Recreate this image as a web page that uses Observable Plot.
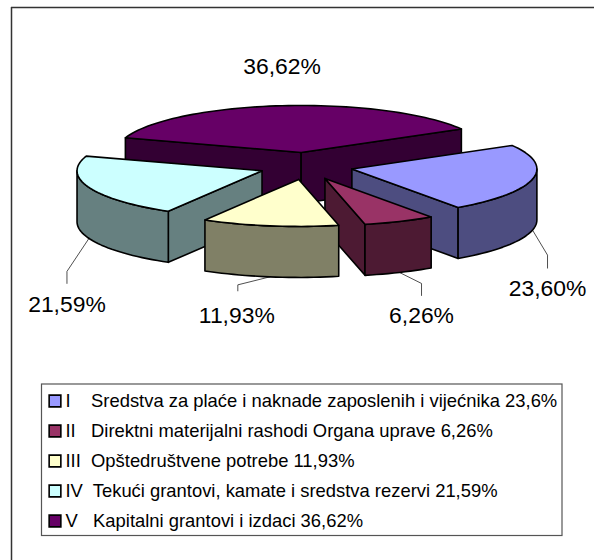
<!DOCTYPE html>
<html>
<head>
<meta charset="utf-8">
<style>
html,body{margin:0;padding:0;background:#fff;}
svg{display:block;}
text{white-space:pre;}
</style>
<script src="https://cdn.jsdelivr.net/npm/d3@7"></script>
<script src="https://cdn.jsdelivr.net/npm/@observablehq/plot@0.6"></script>
</head>
<body>
<div id="chart"></div>
<script>
// Data
const categories = ["I", "II", "III", "IV", "V"];
const values = [23.60, 6.26, 11.93, 21.59, 36.62];
const valueLabels = ["23,60%", "6,26%", "11,93%", "21,59%", "36,62%"];
const legendLabels = [
  "I    Sredstva za plaće i naknade zaposlenih i vijećnika 23,6%",
  "II   Direktni materijalni rashodi Organa uprave 6,26%",
  "III  Opštedruštvene potrebe 11,93%",
  "IV  Tekući grantovi, kamate i sredstva rezervi 21,59%",
  "V   Kapitalni grantovi i izdaci 36,62%"
];
const topColors = ["#9999FF", "#993366", "#FFFFCC", "#CCFFFF", "#660066"];
const wallColors = ["#4D4D80", "#4D1A33", "#808066", "#668080", "#330033"];

// Layout of the 3D projection
const W = 594, H = 560;
const cx = 305.5, cy = 165.5, rx = 185, ry = 47, depth = 51;
const explodeX = 47, explodeY = 13.6, startAngle = 60;
const rad = Math.PI / 180;
const paintOrder = [4, 3, 0, 1, 2];
// leader elbow offsets and label offsets, relative to the slice's rim
const leaderElbows = [[15, 25], [22, 11], [-32, 8], [-22, 33], null];
const leaderDrops = [13, 12, 6, 12, 0];
const labelOffsets = [[0, 21], [0, 20], [-1, 25], [0, 21], [0, -39]];

const total = d3.sum(values);
let cum = startAngle;
const slices = values.map((v, i) => {
  const a = cum, b = cum + v / total * 360;
  cum = b;
  const m = (a + b) / 2;
  const ox = cx + explodeX * Math.sin(m * rad), oy = cy - explodeY * Math.cos(m * rad);
  return {i, a, b, m, ox, oy};
});
const rim = (s, t, dz = 0) => ({x: s.ox + rx * Math.sin(t * rad), y: s.oy - ry * Math.cos(t * rad) + dz});
const arc = (s, t0, t1, dz = 0) => {
  const n = Math.max(2, Math.ceil(Math.abs(t1 - t0) / 2));
  return d3.range(n + 1).map(k => rim(s, t0 + (t1 - t0) * k / n, dz));
};
const close = pts => [...pts, pts[0]];
const radialWall = (s, t) => close([{x: s.ox, y: s.oy}, rim(s, t), rim(s, t, depth), {x: s.ox, y: s.oy + depth}]);
const face = (pts, fill) => Plot.line(pts, {x: "x", y: "y", fill, stroke: "#000", strokeWidth: 1.6, strokeLinejoin: "round"});

const pieMarks = paintOrder.flatMap(i => {
  const s = slices[i], marks = [];
  if (Math.sin(s.a * rad) < 0) marks.push(face(radialWall(s, s.a), wallColors[i]));
  if (Math.sin(s.b * rad) > 0) marks.push(face(radialWall(s, s.b), wallColors[i]));
  const f0 = Math.max(s.a, 90), f1 = Math.min(s.b, 270);
  if (f1 > f0) marks.push(face(close([...arc(s, f0, f1), ...arc(s, f1, f0, depth)]), wallColors[i]));
  marks.push(face(close([{x: s.ox, y: s.oy}, ...arc(s, s.a, s.b)]), topColors[i]));
  return marks;
});

const labelRows = slices.map(s => {
  const i = s.i;
  const hasLeader = leaderElbows[i] != null;
  const start = rim(s, s.m, hasLeader ? depth : 0);
  const elbow = hasLeader ? {x: start.x + leaderElbows[i][0], y: start.y + leaderElbows[i][1]} : start;
  const end = {x: elbow.x, y: elbow.y + leaderDrops[i]};
  return {i, hasLeader, start, elbow, end, text: valueLabels[i],
          lx: end.x + labelOffsets[i][0], ly: end.y + labelOffsets[i][1]};
});
const leaderMarks = labelRows.filter(d => d.hasLeader).map(d =>
  Plot.line([d.start, d.elbow, d.end], {x: "x", y: "y", stroke: "#222", strokeWidth: 0.8}));

// Legend rows
const legendX0 = 41.5, legendX1 = 562, legendY0 = 384, legendY1 = 535.5;
const legendRowY = i => 400.5 + i * 30;
const legendRows = categories.map((c, i) => ({c, label: legendLabels[i], color: topColors[i], y: legendRowY(i)}));

const plot = Plot.plot({
  width: W, height: H,
  marginTop: 0, marginRight: 0, marginBottom: 0, marginLeft: 0,
  x: {domain: [0, W], range: [0, W], axis: null},
  y: {domain: [0, H], range: [0, H], axis: null},
  style: {background: "#fff", fontFamily: "'Liberation Sans', Arial, sans-serif"},
  marks: [
    Plot.ruleX([11], {y1: 7, y2: H, stroke: "#333", strokeWidth: 1.5}),
    Plot.ruleY([7], {x1: 11, x2: W, stroke: "#333", strokeWidth: 1.5}),
    ...leaderMarks,
    ...pieMarks,
    Plot.text(labelRows, {x: "lx", y: "ly", text: "text", fontSize: 22.9, fill: "#000", textAnchor: "middle", lineAnchor: "middle"}),
    Plot.rect([0], {x1: legendX0, x2: legendX1, y1: legendY0, y2: legendY1, fill: "#fff", stroke: "#555", strokeWidth: 1.2}),
    Plot.dot(legendRows, {x: () => 54.5, y: "y", symbol: "square", r: 6.6, fill: "color", stroke: "#000", strokeWidth: 1.6}),
    Plot.text(legendRows, {x: () => 65, y: "y", text: "label", fontSize: 18.4, fill: "#000", textAnchor: "start", lineAnchor: "middle"})
  ]
});
document.getElementById("chart").appendChild(plot);
</script>
</body>
</html>
